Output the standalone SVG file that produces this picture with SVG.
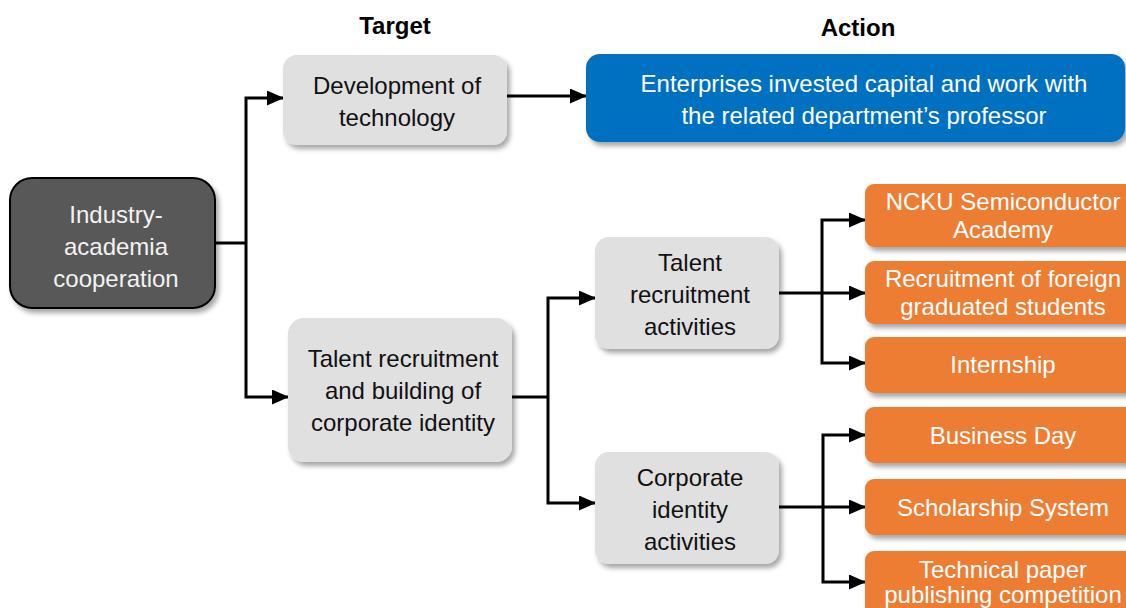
<svg xmlns="http://www.w3.org/2000/svg" width="1126" height="608" viewBox="0 0 1126 608">
<defs>
<filter id="sh" x="-10%" y="-10%" width="130%" height="140%">
<feDropShadow dx="3" dy="4" stdDeviation="2.5" flood-color="#000" flood-opacity="0.35"/>
</filter>
<marker id="ah" markerUnits="userSpaceOnUse" markerWidth="17" markerHeight="15" refX="16" refY="7.5" orient="auto">
<path d="M0,0 L17,7.5 L0,15 z" fill="#000"/>
</marker>
<style>
text{font-family:"Liberation Sans",Arial,sans-serif;font-size:24px;text-anchor:middle}
.hd{font-weight:bold;fill:#000}
.gray rect{fill:#e0e0e0;filter:url(#sh)}
.gray text{fill:#111}
.orange rect{fill:#ed7d31;filter:url(#sh)}
.orange text,.blue text{fill:#fff}
.blue rect{fill:#0070c0;filter:url(#sh)}
.conn path{fill:none;stroke:#000;stroke-width:3}
.conn path.a{marker-end:url(#ah)}
</style>
</defs>
<rect width="1126" height="608" fill="#fff"/>
<text class="hd" x="395" y="34">Target</text>
<text class="hd" x="858" y="36">Action</text>

<g class="conn">
<path d="M215,243 H246"/>
<path class="a" d="M246,243 V98 H283"/>
<path class="a" d="M246,243 V397 H288"/>
<path class="a" d="M507,96 H586"/>
<path d="M512,397 H548"/>
<path class="a" d="M548,397 V298 H595"/>
<path class="a" d="M548,397 V503 H595"/>
<path d="M779,293 H822"/>
<path class="a" d="M822,293 V220 H865"/>
<path class="a" d="M822,293 H865"/>
<path class="a" d="M822,293 V363 H865"/>
<path d="M779,507 H823"/>
<path class="a" d="M823,507 V435 H865"/>
<path class="a" d="M823,507 H865"/>
<path class="a" d="M823,507 V582 H865"/>
</g>

<g id="root">
<rect x="10" y="178" width="205" height="130" rx="22" fill="#595959" stroke="#000" stroke-width="2" filter="url(#sh)"/>
<text x="116" y="223" fill="#f2f2f2">Industry-</text>
<text x="116" y="255" fill="#f2f2f2">academia</text>
<text x="116" y="287" fill="#f2f2f2">cooperation</text>
</g>

<g id="dev" class="gray">
<rect x="283" y="55" width="224" height="90" rx="14"/>
<text x="397" y="94">Development of</text>
<text x="397" y="126">technology</text>
</g>

<g id="talent" class="gray">
<rect x="288" y="318" width="224" height="144" rx="16"/>
<text x="403" y="367">Talent recruitment</text>
<text x="403" y="399">and building of</text>
<text x="403" y="431">corporate identity</text>
</g>

<g id="tra" class="gray">
<rect x="595" y="237" width="184" height="112" rx="14"/>
<text x="690" y="271">Talent</text>
<text x="690" y="303">recruitment</text>
<text x="690" y="335">activities</text>
</g>

<g id="cia" class="gray">
<rect x="595" y="452" width="184" height="112" rx="14"/>
<text x="690" y="486">Corporate</text>
<text x="690" y="518">identity</text>
<text x="690" y="550">activities</text>
</g>

<g id="enterprises" class="blue">
<rect x="586" y="54" width="539" height="88" rx="14"/>
<text x="864" y="92">Enterprises invested capital and work with</text>
<text x="864" y="124">the related department’s professor</text>
</g>

<g id="ncku" class="orange">
<rect x="865" y="184" width="276" height="63" rx="9"/>
<text x="1003" y="210">NCKU Semiconductor</text>
<text x="1003" y="238">Academy</text>
</g>
<g id="foreign" class="orange">
<rect x="865" y="261" width="276" height="63" rx="9"/>
<text x="1003" y="287">Recruitment of foreign</text>
<text x="1003" y="315">graduated students</text>
</g>
<g id="intern" class="orange">
<rect x="865" y="337" width="276" height="56" rx="9"/>
<text x="1003" y="373">Internship</text>
</g>
<g id="bday" class="orange">
<rect x="865" y="407" width="276" height="56" rx="9"/>
<text x="1003" y="444">Business Day</text>
</g>
<g id="scholar" class="orange">
<rect x="865" y="479" width="276" height="56" rx="9"/>
<text x="1003" y="516">Scholarship System</text>
</g>
<g id="paper" class="orange">
<rect x="865" y="551" width="276" height="70" rx="9"/>
<text x="1003" y="578">Technical paper</text>
<text x="1003" y="603">publishing competition</text>
</g>
</svg>
